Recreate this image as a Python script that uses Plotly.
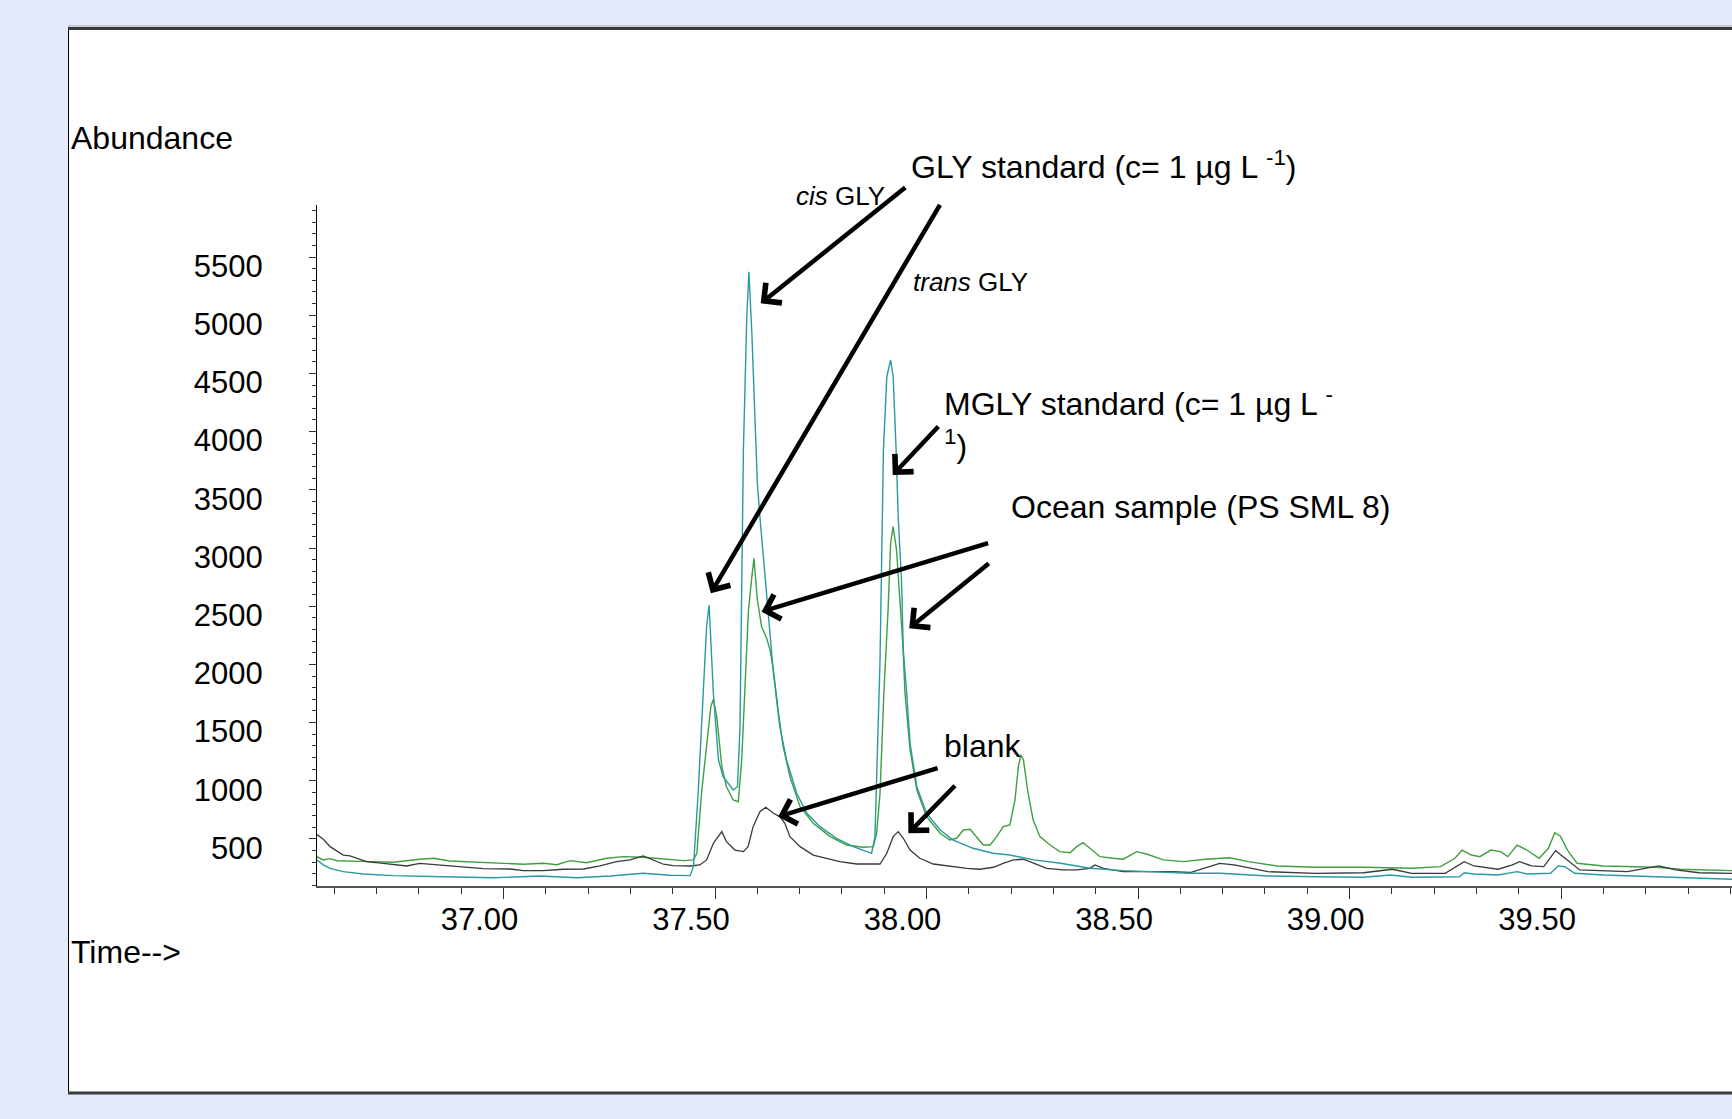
import plotly.graph_objects as go

# ---------------- data (retention time in min, abundance) ----------------
blank_t = [36.558, 36.574, 36.590, 36.606, 36.621, 36.637, 36.653, 36.676, 36.716, 36.771,
           36.802, 36.842, 36.897, 36.952, 37.015, 37.047, 37.094, 37.141, 37.189, 37.228,
           37.267, 37.299, 37.330, 37.354, 37.378, 37.401, 37.441, 37.464, 37.480, 37.496,
           37.516, 37.527, 37.547, 37.567, 37.578, 37.590, 37.606, 37.620, 37.638, 37.653,
           37.665, 37.677, 37.701, 37.732, 37.764, 37.795, 37.835, 37.890, 37.906, 37.921,
           37.933, 37.945, 37.961, 37.984, 38.016, 38.048, 38.095, 38.126, 38.158, 38.181,
           38.205, 38.229, 38.252, 38.284, 38.323, 38.355, 38.386, 38.398, 38.418, 38.465,
           38.528, 38.580, 38.623, 38.670, 38.693, 38.727, 38.807, 38.920, 39.033, 39.101,
           39.147, 39.226, 39.260, 39.271, 39.294, 39.351, 39.385, 39.402, 39.430, 39.459,
           39.487, 39.515, 39.544, 39.657, 39.731, 39.771, 39.826, 39.904]
blank_v = [540, 497, 434, 399, 362, 354, 334, 305, 291, 268,
           291, 277, 262, 245, 242, 228, 228, 240, 242, 268,
           305, 320, 354, 320, 283, 271, 268, 277, 320, 463,
           563, 477, 405, 391, 434, 606, 735, 772, 721, 692,
           635, 520, 434, 362, 334, 305, 285, 285, 377, 520,
           563, 506, 405, 334, 285, 268, 248, 240, 257, 291,
           320, 326, 291, 248, 234, 234, 248, 277, 248, 219,
           219, 219, 212, 268, 291, 277, 219, 205, 210, 240,
           205, 205, 277, 305, 268, 240, 277, 305, 268, 262,
           400, 320, 234, 219, 268, 234, 210, 205]

ocean_t = [36.558, 36.574, 36.590, 36.606, 36.661, 36.739, 36.802, 36.834, 36.873, 36.936,
           36.999, 37.047, 37.094, 37.126, 37.157, 37.196, 37.244, 37.283, 37.330, 37.362,
           37.393, 37.425, 37.449, 37.457, 37.468, 37.480, 37.490, 37.496, 37.504, 37.516,
           37.527, 37.543, 37.555, 37.563, 37.571, 37.579, 37.587, 37.592, 37.600, 37.610,
           37.622, 37.630, 37.638, 37.649, 37.661, 37.677, 37.701, 37.732, 37.772, 37.811,
           37.850, 37.874, 37.882, 37.890, 37.899, 37.909, 37.915, 37.921, 37.929, 37.937,
           37.944, 37.949, 37.961, 37.977, 38.000, 38.032, 38.055, 38.071, 38.087, 38.103,
           38.118, 38.134, 38.150, 38.166, 38.181, 38.197, 38.209, 38.217, 38.223, 38.229,
           38.240, 38.252, 38.268, 38.292, 38.315, 38.339, 38.355, 38.370, 38.386, 38.410,
           38.441, 38.465, 38.497, 38.520, 38.560, 38.607, 38.659, 38.716, 38.761, 38.829,
           38.920, 39.033, 39.147, 39.215, 39.249, 39.266, 39.288, 39.308, 39.334, 39.357,
           39.374, 39.396, 39.419, 39.448, 39.470, 39.485, 39.498, 39.515, 39.538, 39.600,
           39.725, 39.781, 39.904]
ocean_v = [348, 320, 331, 313, 308, 300, 326, 334, 311, 300,
           291, 283, 291, 279, 314, 296, 334, 348, 343, 334,
           326, 314, 320, 377, 893, 1322, 1637, 1700, 1551, 1121,
           949, 835, 820, 1179, 1894, 2467, 2753, 2911, 2553, 2324,
           2224, 2124, 1952, 1608, 1293, 1035, 777, 635, 520, 448,
           429, 434, 549, 893, 1752, 2467, 3040, 3183, 2983, 2553,
           2167, 1752, 1265, 921, 692, 549, 491, 506, 577, 583,
           520, 448, 448, 520, 606, 620, 835, 1121, 1222, 1179,
           893, 663, 520, 448, 391, 382, 434, 468, 420, 348,
           334, 326, 391, 371, 320, 305, 326, 339, 305, 268,
           257, 257, 248, 262, 334, 405, 362, 348, 405, 391,
           348, 448, 405, 334, 420, 554, 526, 405, 291, 268,
           257, 240, 228]

std_t = [36.558, 36.574, 36.590, 36.621, 36.668, 36.739, 36.857, 36.976, 37.086, 37.173,
         37.252, 37.330, 37.393, 37.441, 37.449, 37.460, 37.472, 37.480, 37.486, 37.496,
         37.508, 37.519, 37.543, 37.553, 37.559, 37.563, 37.567, 37.575, 37.580, 37.587,
         37.594, 37.600, 37.606, 37.618, 37.622, 37.630, 37.638, 37.653, 37.669, 37.693,
         37.717, 37.748, 37.787, 37.827, 37.858, 37.870, 37.878, 37.883, 37.890, 37.898,
         37.906, 37.915, 37.921, 37.928, 37.933, 37.941, 37.945, 37.953, 37.961, 37.977,
         38.000, 38.032, 38.063, 38.110, 38.157, 38.197, 38.254, 38.317, 38.386, 38.465,
         38.544, 38.623, 38.694, 38.807, 38.921, 39.034, 39.096, 39.147, 39.260, 39.271,
         39.294, 39.351, 39.396, 39.419, 39.475, 39.493, 39.509, 39.532, 39.600, 39.736,
         39.904]
std_v = [320, 277, 248, 219, 199, 185, 176, 167, 182, 167,
         182, 205, 188, 185, 262, 893, 1752, 2324, 2510, 1752,
         1179, 1035, 921, 949, 1465, 2839, 3842, 4987, 5374, 4844,
         4128, 3556, 3269, 2753, 2553, 2267, 1923, 1465, 1179, 893,
         721, 606, 506, 434, 391, 377, 520, 1179, 2038, 3842,
         4472, 4615, 4472, 3842, 3269, 2697, 2124, 1752, 1322, 949,
         721, 577, 491, 420, 377, 362, 320, 291, 248, 228,
         219, 205, 205, 182, 176, 171, 191, 171, 176, 210,
         199, 191, 219, 199, 205, 268, 262, 205, 191, 176,
         154]

x_range = [36.559, 39.904]
y_range = [96, 5947]

# ---------------- layout geometry ----------------
W, H = 1732, 1119
L, R, T, B = 317, 0, 205, 233
PW, PH = W - L - R, H - T - B
FONT = "Arial, 'Liberation Sans', sans-serif"


def px(x):
    return (x - L) / PW


def py(y):
    return (H - B - y) / PH


fig = go.Figure()
fig.add_trace(go.Scatter(x=ocean_t, y=ocean_v, mode="lines", name="Ocean sample",
                         line=dict(color="#3f9f3f", width=1.4), hoverinfo="skip"))
fig.add_trace(go.Scatter(x=blank_t, y=blank_v, mode="lines", name="blank",
                         line=dict(color="#3a3a3a", width=1.3), hoverinfo="skip"))
fig.add_trace(go.Scatter(x=std_t, y=std_v, mode="lines", name="standard",
                         line=dict(color="#2a9a9e", width=1.4), hoverinfo="skip"))

shapes = [
    dict(type="rect", xref="paper", yref="paper", x0=px(68), x1=px(1745), y0=py(1093), y1=py(28),
         fillcolor="white", line=dict(width=0), layer="below"),
    dict(type="line", xref="paper", yref="paper", x0=px(68.5), x1=px(68.5), y0=py(1093), y1=py(28),
         line=dict(color="black", width=1), layer="below"),
    dict(type="line", xref="paper", yref="paper", x0=px(68), x1=px(1745), y0=py(26), y1=py(26),
         line=dict(color="#a8a8a8", width=1), layer="below"),
    dict(type="line", xref="paper", yref="paper", x0=px(68), x1=px(1745), y0=py(28.5), y1=py(28.5),
         line=dict(color="#3a3a3a", width=3), layer="below"),
    dict(type="line", xref="paper", yref="paper", x0=px(68), x1=px(1745), y0=py(1093), y1=py(1093),
         line=dict(color="#3a3a3a", width=3), layer="below"),
]

texts = [
    ("Abundance", 69, 138, 32),
    ("Time--&gt;", 69, 952, 32),
    ("GLY standard (c= 1 µg L <sup>-1</sup>)", 909, 165, 32),
    ("<i>cis</i> GLY", 794, 196, 26),
    ("<i>trans</i> GLY", 911, 282, 26),
    ("MGLY standard (c= 1 µg L <sup>-</sup><br><sup>1</sup>)", 942, 423, 32),
    ("Ocean sample (PS SML 8)", 1009, 507, 32),
    ("blank", 942, 746, 32),
]
annotations = []
for txt, x, y, size in texts:
    annotations.append(dict(text=txt, xref="paper", yref="paper", x=px(x), y=py(y),
                            xanchor="left", yanchor="middle", align="left", showarrow=False,
                            font=dict(family=FONT, size=size, color="black")))

# arrows: tip in data coords, tail offset in pixels
arrows = [
    (37.608, 5102, 146, -117),
    (37.490, 2611, 230, -390),
    (37.920, 3627, 47, -50),
    (37.610, 2453, 228, -69),
    (37.959, 2310, 81, -66),
    (37.649, 692, 161, -49),
    (37.957, 549, 48, -49),
]
for xt, yt, axp, ayp in arrows:
    annotations.append(dict(text="", x=xt, y=yt, xref="x", yref="y", ax=axp, ay=ayp,
                            showarrow=True, arrowhead=4, arrowsize=1.1, arrowwidth=4.5,
                            arrowcolor="black"))

fig.update_layout(
    width=W, height=H,
    margin=dict(l=L, r=R, t=T, b=B, pad=0),
    paper_bgcolor="#e4eaf9",
    plot_bgcolor="rgba(0,0,0,0)",
    showlegend=False,
    font=dict(family=FONT, color="black"),
    shapes=shapes,
    annotations=annotations,
)
fig.update_xaxes(range=x_range, showgrid=False, zeroline=False,
                 showline=True, linecolor="#555555", linewidth=2,
                 ticks="outside", ticklen=11, tickwidth=1, tickcolor="#333333",
                 tick0=37, dtick=0.5, tickformat=".2f",
                 minor=dict(ticks="outside", ticklen=6, dtick=0.1, tick0=37, tickcolor="#333333", tickwidth=1),
                 tickfont=dict(family=FONT, size=31, color="black"),
                 ticklabelshift=-24, ticklabelstandoff=-6)
fig.update_yaxes(range=y_range, showgrid=False, zeroline=False,
                 showline=True, linecolor="black", linewidth=1,
                 ticks="outside", ticklen=7, tickwidth=1, tickcolor="#333333",
                 tick0=0, dtick=500, tickformat="d",
                 minor=dict(ticks="outside", ticklen=4, dtick=100, tick0=0, tickcolor="#333333", tickwidth=1),
                 tickfont=dict(family=FONT, size=31, color="black"),
                 ticklabelshift=9, ticklabelstandoff=40)

fig.write_html("out.html")
